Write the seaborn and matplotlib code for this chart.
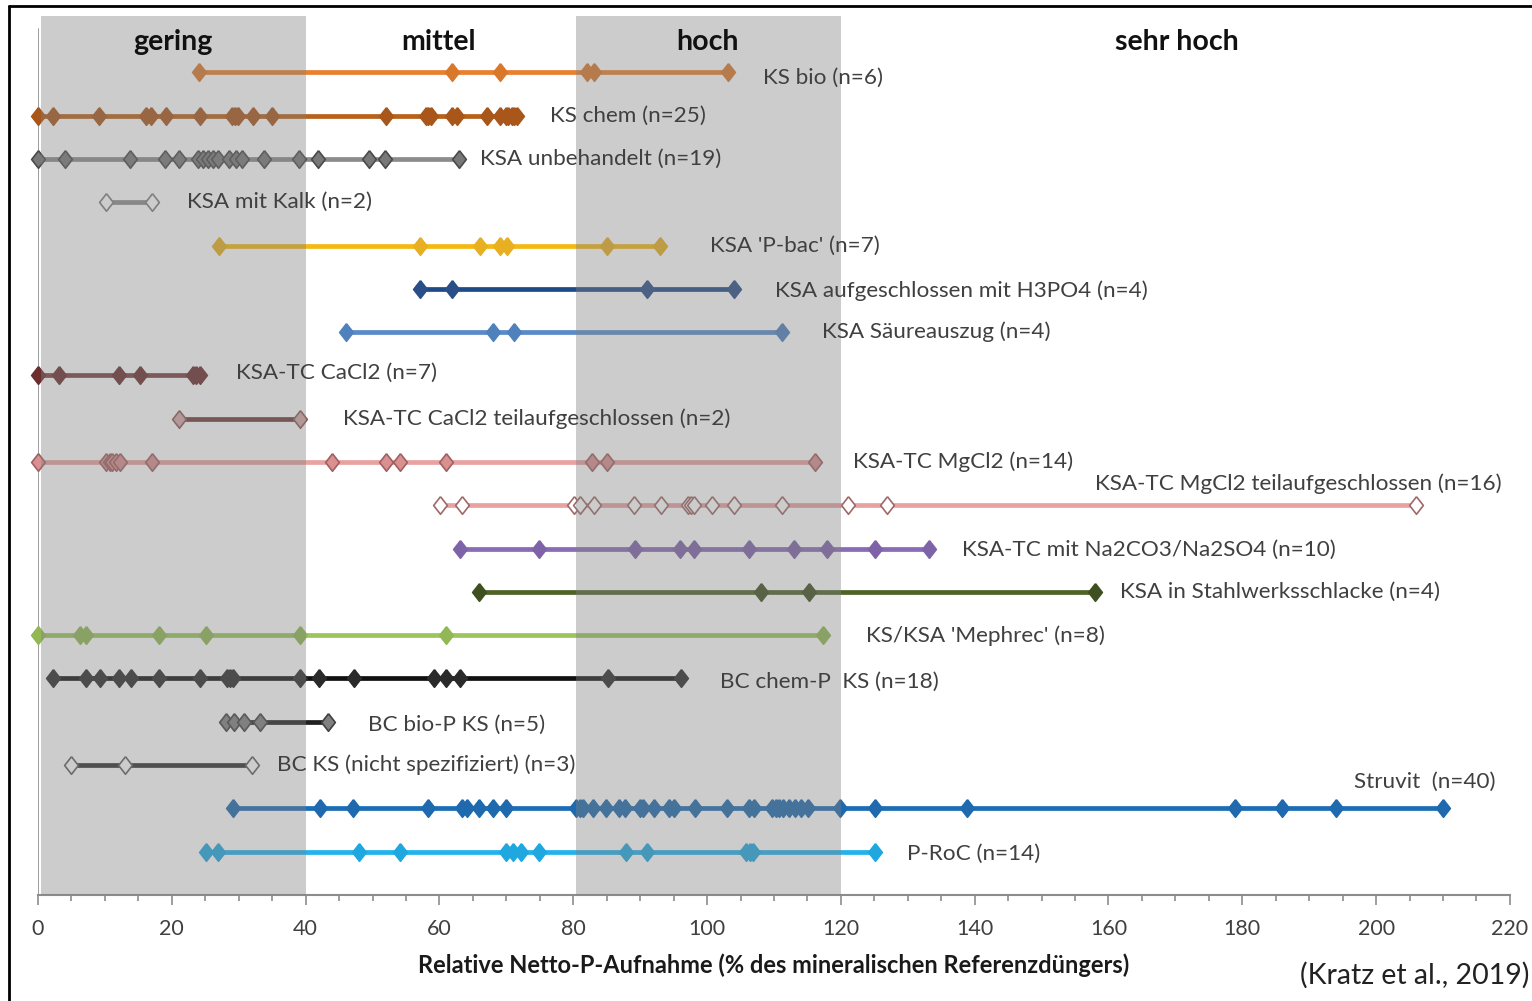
import numpy as np
import pandas as pd
import matplotlib
matplotlib.use("Agg")
import matplotlib.pyplot as plt
from matplotlib.lines import Line2D
from matplotlib.ticker import MultipleLocator
import seaborn as sns

# Relative net P uptake (% of mineral reference fertiliser) per recycling product
ks_bio = [24.1, 61.9, 69.0, 82.0, 83.1, 103.1]
ks_chem = [0, 2.2, 9.1, 16.1, 16.9, 19.1, 24.2, 29.0, 29.5, 29.9, 32.1, 35.0,
           52.0, 58.0, 58.3, 58.7, 61.9, 62.6, 67.1, 69.0, 69.9, 70.3, 70.8, 71.2, 71.6]
ksa_unbehandelt = [0, 4.0, 13.8, 19.0, 21.1, 23.9, 24.7, 25.4, 26.2, 26.9, 28.5,
                   29.6, 30.5, 33.8, 39.0, 41.8, 49.5, 51.9, 62.9]
ksa_kalk = [10.2, 17.0]
ksa_pbac = [27.1, 57.1, 66.1, 69.0, 70.1, 85.0, 93.0]
ksa_h3po4 = [57.1, 61.9, 91.0, 104.0]
ksa_saeure = [46.0, 68.0, 71.1, 111.2]
tc_cacl2 = [0, 3.1, 12.1, 15.2, 23.2, 23.6, 24.2]
tc_cacl2_teil = [21.1, 39.2]
tc_mgcl2 = [0, 10.2, 10.7, 11.1, 11.7, 12.2, 17.1, 43.9, 52.0, 54.1, 61.0, 82.8, 85.0, 116.1]
tc_mgcl2_teil = [60.1, 63.4, 80.1, 81.0, 83.1, 89.1, 93.1, 97.1, 97.6, 98.0, 100.7,
                 104.0, 111.2, 121.1, 126.9, 205.9]
tc_na = [63.1, 74.9, 89.2, 95.9, 98.0, 106.3, 113.0, 117.9, 125.1, 133.2]
ksa_stahl = [65.9, 108.1, 115.2, 158.0]
mephrec = [0, 6.3, 7.2, 18.1, 25.1, 39.1, 61.0, 117.3]
bc_chem = [2.3, 7.2, 9.2, 12.1, 13.9, 18.1, 24.2, 28.2, 28.7, 29.2, 39.2, 42.0,
           47.2, 59.2, 61.0, 63.0, 85.2, 96.1]
bc_bio = [28.1, 29.3, 30.8, 33.2, 43.3]
bc_ks = [5.0, 13.0, 32.0]
struvit = [29.1, 42.1, 47.1, 58.3, 63.4, 64.1, 65.9, 68.0, 69.9, 80.4, 81.0, 81.5,
           82.9, 84.9, 86.8, 87.7, 90.0, 90.5, 92.1, 94.3, 95.1, 98.2, 103.0, 106.3,
           107.0, 109.7, 110.3, 110.8, 111.3, 112.2, 113.1, 114.0, 115.1, 119.9,
           125.1, 138.8, 178.9, 185.9, 194.0, 210.0]
p_roc = [25.1, 26.9, 48.0, 54.1, 69.9, 71.0, 72.2, 74.9, 87.9, 91.0, 105.8,
         106.4, 106.9, 125.1]

series = [ks_bio, ks_chem, ksa_unbehandelt, ksa_kalk, ksa_pbac, ksa_h3po4, ksa_saeure,
          tc_cacl2, tc_cacl2_teil, tc_mgcl2, tc_mgcl2_teil, tc_na, ksa_stahl, mephrec,
          bc_chem, bc_bio, bc_ks, struvit, p_roc]

labels = ["KS bio (n=6)", "KS chem (n=25)", "KSA unbehandelt (n=19)", "KSA mit Kalk (n=2)",
          "KSA 'P-bac' (n=7)", "KSA aufgeschlossen mit H3PO4 (n=4)", "KSA Säureauszug (n=4)",
          "KSA-TC CaCl2 (n=7)", "KSA-TC CaCl2 teilaufgeschlossen (n=2)", "KSA-TC MgCl2 (n=14)",
          "KSA-TC MgCl2 teilaufgeschlossen (n=16)", "KSA-TC mit Na2CO3/Na2SO4 (n=10)",
          "KSA in Stahlwerksschlacke (n=4)", "KS/KSA 'Mephrec' (n=8)", "BC chem-P  KS (n=18)",
          "BC bio-P KS (n=5)", "BC KS (nicht spezifiziert) (n=3)", "Struvit  (n=40)", "P-RoC (n=14)"]

# label anchor (x in % units, vertical offset in rows)
label_x = [108.4, 76.5, 66.1, 22.3, 100.4, 110.1, 117.2, 29.6, 45.6, 121.8,
           158.0, 138.1, 161.7, 123.7, 101.9, 49.3, 35.7, 196.7, 129.9]
label_dy = [0.12, 0, 0, 0, 0, 0.04, 0, -0.05, 0, 0, -0.5, 0.03, 0, 0.02, 0.07, 0.08, 0, -0.62, 0.05]

line_colors = ["#E98030", "#B8611A", "#8C8C8C", "#8C8C8C", "#F4B912", "#1E4A88", "#5A8BC8",
               "#7A4242", "#6E3C3C", "#E9A2A2", "#E9A2A2", "#8A6BB5", "#4F6228", "#9CC65A",
               "#111111", "#202020", "#303030", "#1C6DB5", "#22B2EC"]
face_colors = ["#D9782A", "#A8561A", "#787878", "white", "#E8B020", "#2A4E86", "#4F81BD",
               "#6B2D2D", "#D8A8A8", "#D99090", "white", "#7F63A8", "#3E5020", "#92B855",
               "#2A2A2A", "#808080", "white", "#1F6AAE", "#1FA8E0"]
edge_colors = ["#D9782A", "#A8561A", "#4A4A4A", "#7F7F7F", "#E8B020", "#2A4E86", "#4F81BD",
               "#6B2D2D", "#8A5A5A", "#A06060", "#A06868", "#7F63A8", "#3E5020", "#92B855",
               "#2A2A2A", "#404040", "#606060", "#1F6AAE", "#1FA8E0"]

bands = [(0, 40), (80, 120)]
band_names = ["gering", "mittel", "hoch", "sehr hoch"]
band_name_x = [20.2, 59.8, 100.0, 170.2]

sns.set_theme(style="white")
plt.rcParams["font.family"] = ["Lato", "DejaVu Sans"]

fig = plt.figure(figsize=(15.32, 10.01), dpi=100)
ax = fig.add_axes([0.0248, 0.1059, 0.9608, 0.8781])

diamond = [(0, 1), (0.78, 0), (0, -1), (-0.78, 0), (0, 1)]

for i, vals in enumerate(series):
    df = pd.DataFrame({"value": vals, "row": np.full(len(vals), i)})
    sns.lineplot(data=df, x="value", y="row", estimator=None, sort=True,
                 color=line_colors[i], lw=3.4, ax=ax, zorder=2)
    sns.scatterplot(data=df, x="value", y="row", marker=diamond, s=160,
                    color=face_colors[i], edgecolor=edge_colors[i], linewidth=1.2,
                    ax=ax, zorder=2.5, clip_on=False)
    ax.text(label_x[i], i + label_dy[i], labels[i], fontsize=16.2, color="#404040",
            va="center", ha="left", zorder=6)

# shaded classes drawn as a translucent veil
for lo, hi in bands:
    ax.axvspan(lo + 0.4, hi, ymin=0, ymax=1, color="#808080", alpha=0.4, lw=0, zorder=4)

for name, x in zip(band_names, band_name_x):
    ax.text(x, -0.7, name, fontsize=20.5, fontweight="bold", color="#111111",
            ha="center", va="center", zorder=6)

ax.set_xlim(0, 220)
ax.set_ylim(19.0, -1.3)
ax.set_yticks([])
ax.set_ylabel("")
ax.xaxis.set_major_locator(MultipleLocator(20))
ax.xaxis.set_minor_locator(MultipleLocator(5))
ax.tick_params(axis="x", which="major", direction="out", length=7, width=1.2,
               color="#8C8C8C", labelsize=15.5, labelcolor="#404040", pad=10, bottom=True)
ax.tick_params(axis="x", which="minor", direction="out", length=4, width=1.2,
               color="#8C8C8C", bottom=True)
for s in ["top", "right", "left"]:
    ax.spines[s].set_visible(False)
ax.spines["bottom"].set_color("#8C8C8C")
ax.spines["bottom"].set_linewidth(1.5)
ax.axvline(0, ymin=0, ymax=(895 - 29) / (895 - 16), color="#8C8C8C", lw=1.2, zorder=1)

ax.set_xlabel("Relative Netto-P-Aufnahme (% des mineralischen Referenzdüngers)",
              fontsize=17, fontweight="bold", color="#1a1a1a", labelpad=11)

fig.text(0.9985, 0.026, "(Kratz et al., 2019)", fontsize=20.5, color="#222222",
         ha="right", va="center")

# frame around the figure
fig.add_artist(Line2D([0.006, 0.006], [0, 0.994], color="black", lw=2, transform=fig.transFigure))
fig.add_artist(Line2D([0.006, 1.0], [0.994, 0.994], color="black", lw=2, transform=fig.transFigure))

fig.savefig("out.png", dpi=100, facecolor="white")
